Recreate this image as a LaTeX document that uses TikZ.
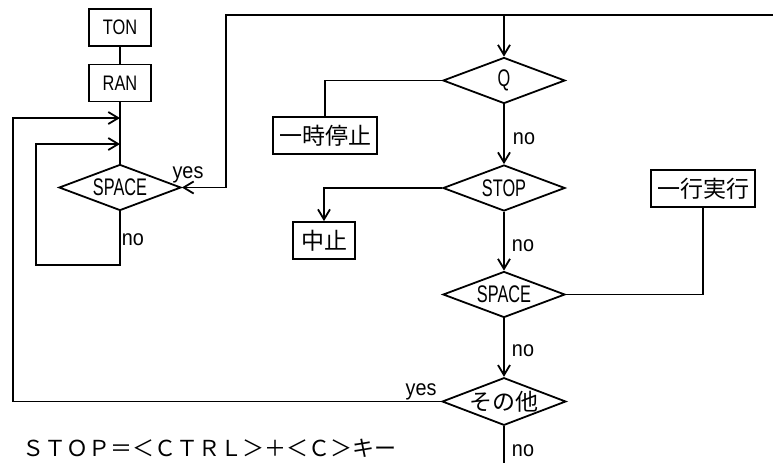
\documentclass[tikz,border=0pt]{standalone}
\usepackage{fontspec}
\setmainfont{Liberation Sans}
\newfontfamily\nar[FakeStretch=0.68]{Liberation Sans}
\newfontfamily\narb[FakeStretch=0.78]{Liberation Sans}
\newfontfamily\narl[FakeStretch=0.9]{Liberation Sans}
\newfontfamily\jp{Noto Sans CJK JP}
\usetikzlibrary{shapes.geometric,arrows.meta}
\begin{document}
\begin{tikzpicture}[x=1pt,y=-1pt, line width=1.8pt,
  box/.style={draw, inner sep=0pt, minimum width=62pt, minimum height=37pt, font=\narb\fontsize{21}{21}\selectfont},
  jbox/.style={draw, inner sep=0pt, minimum height=37pt, font=\jp\fontsize{23}{23}\selectfont},
  dia/.style={draw, diamond, aspect=2.6, inner sep=0pt, minimum width=122pt, minimum height=46pt, font=\nar\fontsize{24}{24}\selectfont},
  lbl/.style={font=\narl\fontsize{22}{22}\selectfont, inner sep=0pt},
  arr/.style={-{Straight Barb[length=10pt,width=12pt]}}
]
\useasboundingbox (0,0) rectangle (773,463);
% boxes
\node[box] (ton) at (120,27.5) {TON};
\node[box] (ran) at (120,83) {RAN};
\node[jbox, minimum width=104pt] (b1) at (325,135.5) {一時停止};
\node[jbox, minimum width=62pt] (b2) at (324,240.5) {中止};
\node[jbox, minimum width=104pt] (b3) at (703,188.5) {一行実行};
% diamonds
\node[dia] (d1) at (120,187.5) {SPACE};
\node[dia] (q) at (504,80.5) {Q};
\node[dia] (stop) at (504,188) {STOP};
\node[dia] (sp2) at (504,294.5) {SPACE};
\node[dia, font=\jp\fontsize{23}{23}\selectfont] (d5) at (504,401.5) {その他};
% helper coordinates
\coordinate (m1) at (120,118);
\coordinate (m2) at (120,144);
\coordinate (c1) at (36,265);
\coordinate (c2) at (13,118);
\coordinate (c3) at (226,15);
\coordinate (tr) at (773,15);
\coordinate (bot) at (504,463);
% connectors
\draw (ton) -- (ran);
\draw (ran) -- (d1);
\draw[arr] (d1.south) |- (c1) |- (m2);
\draw[arr] (d5.west) -| (c2) -- (m1);
\draw[arr] (tr) -- (c3) |- (d1.east);
\draw[arr] (c3 -| q.north) -- (q.north);
\draw (q.west) -| (b1.north);
\draw[arr] (q.south) -- (stop.north);
\draw[arr] (stop.west) -| (b2.north);
\draw[arr] (stop.south) -- (sp2.north);
\draw (sp2.east) -| (b3.south);
\draw[arr] (sp2.south) -- (d5.north);
\draw (d5.south) -- (bot);
% labels
\node[lbl] (l1) at (188,175) {yes};
\node[lbl] (l2) at (133,240) {no};
\node[lbl] (l3) at (524,139) {no};
\node[lbl] (l4) at (523,246) {no};
\node[lbl] (l5) at (523,351) {no};
\node[lbl] (l6) at (523,451) {no};
\node[lbl] (l7) at (421,392) {yes};
\node[anchor=base west, inner sep=0pt, font=\jp\fontsize{22}{22}\selectfont] (note) at (22,456) {ＳＴＯＰ＝＜ＣＴＲＬ＞＋＜Ｃ＞キー};
\end{tikzpicture}
\end{document}
